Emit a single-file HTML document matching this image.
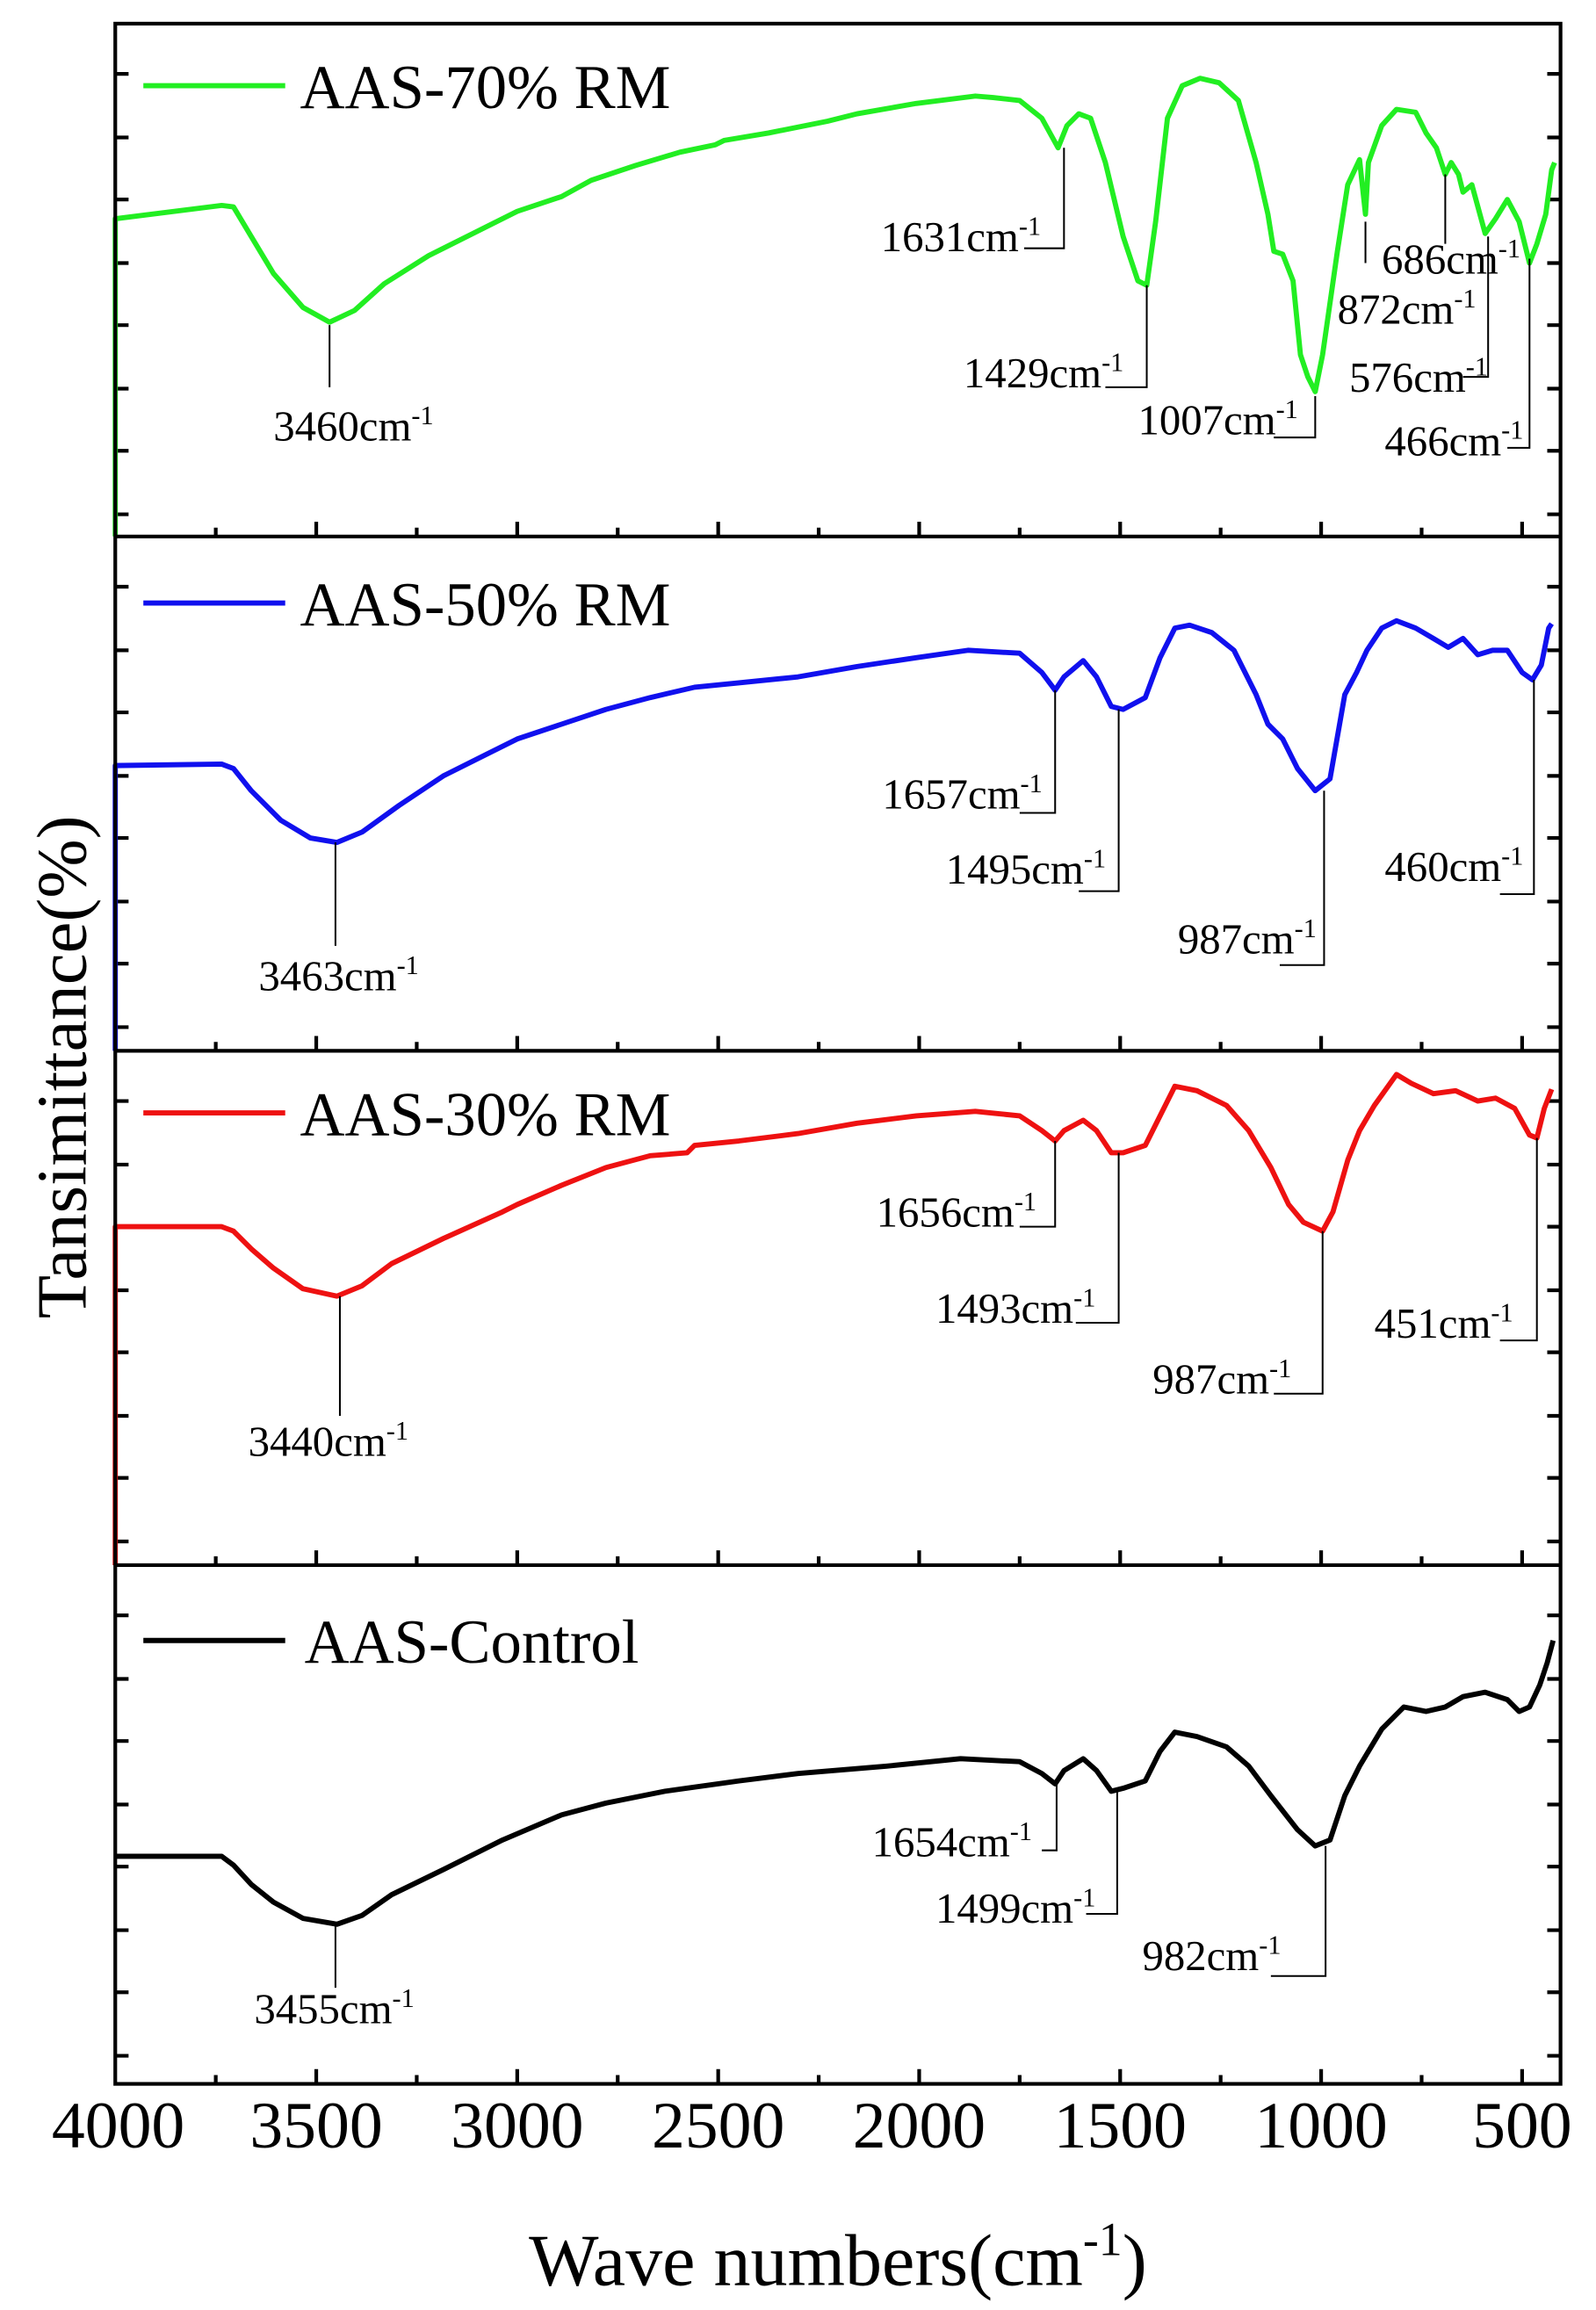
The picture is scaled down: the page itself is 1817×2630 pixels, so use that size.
<!DOCTYPE html>
<html><head><meta charset="utf-8"><style>html,body{margin:0;padding:0;background:#fff}svg{display:block}</style></head>
<body>
<svg width="1817" height="2630" viewBox="0 0 1080 1563" preserveAspectRatio="none" xmlns="http://www.w3.org/2000/svg" font-family="Liberation Serif, serif">
<rect width="1080" height="1563" fill="#fff"/>
<g stroke="#000" stroke-width="2.5" fill="none">
<path d="M78,50h9M78,93h9M78,135h9M78,178h9M78,220h9M78,263h9M78,305h9M78,348h9
M1056,50h-9M1056,93h-9M1056,135h-9M1056,178h-9M1056,220h-9M1056,263h-9M1056,305h-9M1056,348h-9
M78,397h9M78,440h9M78,482h9M78,525h9M78,567h9M78,610h9M78,652h9M78,695h9
M1056,397h-9M1056,440h-9M1056,482h-9M1056,525h-9M1056,567h-9M1056,610h-9M1056,652h-9M1056,695h-9
M78,745h9M78,788h9M78,830h9M78,873h9M78,915h9M78,958h9M78,1000h9M78,1043h9
M1056,745h-9M1056,788h-9M1056,830h-9M1056,873h-9M1056,915h-9M1056,958h-9M1056,1000h-9M1056,1043h-9
M78,1093h9M78,1136h9M78,1178h9M78,1221h9M78,1263h9M78,1306h9M78,1348h9M78,1391h9
M1056,1093h-9M1056,1136h-9M1056,1178h-9M1056,1221h-9M1056,1263h-9M1056,1306h-9M1056,1348h-9M1056,1391h-9"/>
<path d="M214,363v-10M350,363v-10M486,363v-10M622,363v-10M758,363v-10M894,363v-10M1030,363v-10M146,363v-6M282,363v-6M418,363v-6M554,363v-6M690,363v-6M826,363v-6M962,363v-6
M214,711v-10M350,711v-10M486,711v-10M622,711v-10M758,711v-10M894,711v-10M1030,711v-10M146,711v-6M282,711v-6M418,711v-6M554,711v-6M690,711v-6M826,711v-6M962,711v-6
M214,1059v-10M350,1059v-10M486,1059v-10M622,1059v-10M758,1059v-10M894,1059v-10M1030,1059v-10M146,1059v-6M282,1059v-6M418,1059v-6M554,1059v-6M690,1059v-6M826,1059v-6M962,1059v-6
M214,1410v-10M350,1410v-10M486,1410v-10M622,1410v-10M758,1410v-10M894,1410v-10M1030,1410v-10M146,1410v-6M282,1410v-6M418,1410v-6M554,1410v-6M690,1410v-6M826,1410v-6M962,1410v-6"/>
</g>
<g fill="none" stroke-width="3.5" stroke-linejoin="round">
<polyline stroke="#22ee22" points="78,363 78,148 150,139 158,140 170,160 185,185 205,208 223,218 240,210 260,192 290,173 320,158 350,143 380,133 400,122 430,112 460,103 484,98 490,95 520,90 560,82 580,77 620,70 660,65 672,66 690,68 705,80 716,100 722,85 730,77 738,80 748,110 760,160 770,190 776,193 782,150 790,80 800,58 812,53 825,56 838,68 850,110 858,145 862,170 868,172 875,190 880,240 885,255 890,265 895,240 905,170 912,125 920,108 924,145 926,110 935,85 945,74 958,76 965,90 972,100 978,118 982,110 987,118 990,130 996,125 1005,158 1012,148 1020,135 1028,150 1035,178 1040,165 1046,145 1050,115 1052,110"/>
<polyline stroke="#1010ee" points="78,711 78,518 150,517 158,520 170,535 190,555 210,567 228,570 245,563 270,545 300,525 330,510 350,500 380,490 410,480 440,472 470,465 500,462 540,458 580,451 620,445 655,440 690,442 705,455 714,467 720,458 733,447 742,458 752,478 760,480 775,472 785,445 795,425 805,423 820,428 835,440 850,470 858,490 868,500 878,520 890,535 900,527 910,470 918,455 925,440 935,425 945,420 958,425 970,432 980,438 990,432 1000,443 1010,440 1020,440 1030,455 1037,460 1043,450 1048,425 1050,422"/>
<polyline stroke="#ee1111" points="78,1059 78,830 150,830 158,833 170,845 185,858 205,872 228,877 245,870 265,855 300,838 340,820 350,815 380,802 410,790 440,782 465,780 470,775 500,772 540,767 580,760 620,755 660,752 690,755 705,765 714,772 720,765 733,758 742,765 752,780 760,780 775,775 785,755 795,735 810,738 830,748 845,765 860,790 872,815 882,827 895,833 902,820 912,785 920,765 930,748 945,727 955,733 970,740 985,738 1000,745 1012,743 1025,750 1035,768 1040,770 1045,750 1050,737"/>
<polyline stroke="#000" points="78,1256 150,1256 158,1262 170,1275 185,1287 205,1298 228,1302 245,1296 265,1282 300,1265 340,1245 380,1228 410,1220 450,1212 500,1205 540,1200 600,1195 650,1190 690,1192 705,1200 714,1207 720,1198 733,1190 742,1198 752,1212 760,1210 775,1205 785,1185 795,1172 810,1175 830,1182 845,1195 860,1215 878,1238 890,1249 900,1245 910,1215 920,1195 935,1170 950,1155 965,1158 978,1155 990,1148 1005,1145 1020,1150 1028,1158 1035,1155 1042,1140 1047,1125 1051,1110"/>
</g>
<g stroke="#000" stroke-width="1.2" fill="none">
<path d="M223,220V262 M720,100V168H693 M776,193V262H748 M890,268V296H862 M924,150V178 M978,118V165 M1007,160V255H990 M1035,175V303H1020"/>
<path d="M227,570V640 M714,467V550H690 M757,480V603H730 M896,535V653H866 M1038,460V605H1015"/>
<path d="M230,877V958 M714,772V830H690 M757,780V895H728 M895,833V943H862 M1040,770V907H1015"/>
<path d="M227,1302V1345 M715,1207V1252H705 M756,1212V1295H735 M897,1249V1337H860"/>
</g>
<g font-size="29" fill="#000">
<text x="185" y="298">3460cm<tspan dy="-11" font-size="18">-1</tspan></text>
<text x="596" y="170">1631cm<tspan dy="-11" font-size="18">-1</tspan></text>
<text x="652" y="262">1429cm<tspan dy="-11" font-size="18">-1</tspan></text>
<text x="770" y="294">1007cm<tspan dy="-11" font-size="18">-1</tspan></text>
<text x="935" y="185">686cm<tspan dy="-11" font-size="18">-1</tspan></text>
<text x="905" y="219">872cm<tspan dy="-11" font-size="18">-1</tspan></text>
<text x="913" y="265">576cm<tspan dy="-11" font-size="18">-1</tspan></text>
<text x="937" y="308">466cm<tspan dy="-11" font-size="18">-1</tspan></text>
<text x="175" y="670">3463cm<tspan dy="-11" font-size="18">-1</tspan></text>
<text x="597" y="547">1657cm<tspan dy="-11" font-size="18">-1</tspan></text>
<text x="640" y="598">1495cm<tspan dy="-11" font-size="18">-1</tspan></text>
<text x="797" y="645">987cm<tspan dy="-11" font-size="18">-1</tspan></text>
<text x="937" y="596">460cm<tspan dy="-11" font-size="18">-1</tspan></text>
<text x="168" y="985">3440cm<tspan dy="-11" font-size="18">-1</tspan></text>
<text x="593" y="830">1656cm<tspan dy="-11" font-size="18">-1</tspan></text>
<text x="633" y="895">1493cm<tspan dy="-11" font-size="18">-1</tspan></text>
<text x="780" y="943">987cm<tspan dy="-11" font-size="18">-1</tspan></text>
<text x="930" y="905">451cm<tspan dy="-11" font-size="18">-1</tspan></text>
<text x="172" y="1369">3455cm<tspan dy="-11" font-size="18">-1</tspan></text>
<text x="590" y="1256">1654cm<tspan dy="-11" font-size="18">-1</tspan></text>
<text x="633" y="1301">1499cm<tspan dy="-11" font-size="18">-1</tspan></text>
<text x="773" y="1333">982cm<tspan dy="-11" font-size="18">-1</tspan></text>
</g>
<g stroke-width="3.5">
<line x1="97" y1="58" x2="193" y2="58" stroke="#22ee22"/>
<line x1="97" y1="408" x2="193" y2="408" stroke="#1010ee"/>
<line x1="97" y1="753" x2="193" y2="753" stroke="#ee1111"/>
<line x1="97" y1="1110" x2="193" y2="1110" stroke="#000"/>
</g>
<g font-size="42" fill="#000">
<text x="203" y="73">AAS-70% RM</text>
<text x="203" y="423">AAS-50% RM</text>
<text x="203" y="768">AAS-30% RM</text>
<text x="206" y="1125">AAS-Control</text>
</g>
<g fill="none" stroke="#000" stroke-width="2.5">
<rect x="78" y="16" width="978" height="1394"/>
<path d="M78,363H1056 M78,711H1056 M78,1059H1056"/>
</g>
<g font-size="45" fill="#000" text-anchor="middle">
<text x="80" y="1453">4000</text><text x="214" y="1453">3500</text><text x="350" y="1453">3000</text><text x="486" y="1453">2500</text><text x="622" y="1453">2000</text><text x="758" y="1453">1500</text><text x="894" y="1453">1000</text><text x="1030" y="1453">500</text>
<text x="567" y="1546" font-size="50">Wave numbers(cm<tspan dy="-20" font-size="32">-1</tspan><tspan dy="20">)</tspan></text>
<text transform="translate(58,722) rotate(-90)" font-size="48">Tansimittance(%)</text>
</g>
</svg>
</body></html>
